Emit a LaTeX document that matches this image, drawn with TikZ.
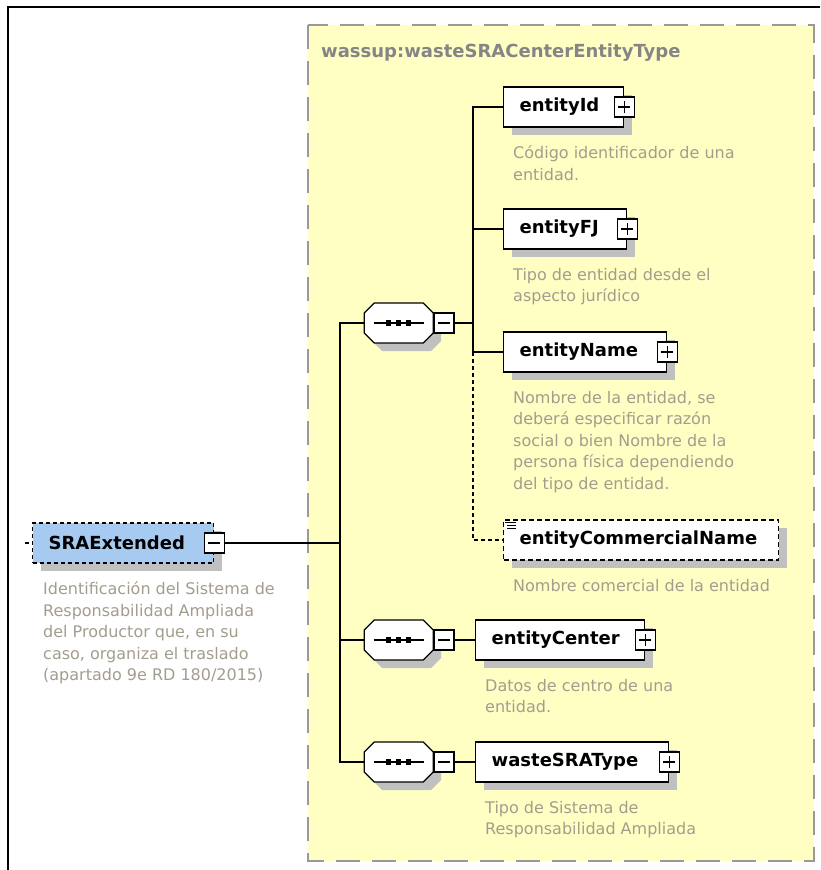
\documentclass[tikz,border=0pt]{standalone}
\usepackage{fontspec}
\setmainfont{DejaVu Sans}
\usetikzlibrary{shadows}
\definecolor{PaleYellow}{HTML}{FFFFC4}
\definecolor{ElemBlue}{HTML}{A6CAF0}
\definecolor{Shade}{HTML}{C0C0C0}
\definecolor{FrameGray}{HTML}{999999}
\definecolor{TitleGray}{HTML}{858585}
\definecolor{DocGray}{HTML}{A39D8D}

\tikzset{
  boxshadow/.style={drop shadow={shadow xshift=8pt, shadow yshift=-8pt, fill=Shade, opacity=1}},
  elem/.style={draw, fill=white, line width=1.3pt, minimum height=40pt, anchor=west,
    inner xsep=16pt, inner ysep=0pt, text width=#1, align=left,
    font=\fontsize{18}{22}\selectfont\bfseries, boxshadow},
  togglebox/.style={draw, fill=white, line width=1.1pt, minimum size=20pt, inner sep=0pt},
  plusbox/.style={togglebox, path picture={
      \draw[line width=1.1pt] ([xshift=-6pt]path picture bounding box.center) -- ([xshift=6pt]path picture bounding box.center);
      \draw[line width=1.1pt] ([yshift=-6pt]path picture bounding box.center) -- ([yshift=6pt]path picture bounding box.center);}},
  minusbox/.style={togglebox, path picture={
      \draw[line width=1.1pt] ([xshift=-6pt]path picture bounding box.center) -- ([xshift=6pt]path picture bounding box.center);}},
  seqbox/.style={rectangle, minimum width=69pt, minimum height=40pt, inner sep=0pt, anchor=west},
  desc/.style={anchor=north west, align=left, inner sep=0pt, text=DocGray,
    font=\fontsize{16}{21.5}\selectfont, execute at begin node={\rule{0pt}{13pt}}},
  link/.style={line width=1.3pt},
  optlink/.style={link, dash pattern=on 4pt off 3pt}
}

\begin{document}
\begin{tikzpicture}[x=1pt, y=-1pt]
  \useasboundingbox (0,0) rectangle (820,870);
  \draw[line width=1.5pt] (8,870) |- (820,7);

  % complex type
  \draw[fill=PaleYellow, draw=FrameGray, line width=2pt, dash pattern=on 24pt off 12pt] (308,25) rectangle (814,861);
  \node[anchor=base west, inner sep=0pt, text=TitleGray, font=\fontsize{18}{22}\selectfont\bfseries] (typeName) at (321,57) {wassup:wasteSRACenterEntityType};

  % root element
  \node[elem=149pt, fill=ElemBlue, dash pattern=on 4pt off 3pt] (sraExt) at (32,543) {SRAExtended};
  \node[minusbox] (mSra) at (sraExt.east) {};
  \node[desc] (sraDoc) at ([xshift=11pt,yshift=-18pt]sraExt.south west) {Identificación del Sistema de\\Responsabilidad Ampliada\\del Productor que, en su\\caso, organiza el traslado\\(apartado 9e RD 180/2015)};

  % sequences
  \node[seqbox] (seqA) at (364,323) {};
  \node[seqbox] (seqB) at (364,640) {};
  \node[seqbox] (seqC) at (364,762) {};
  \foreach \s in {seqA,seqB,seqC} {
    \begin{scope}[shift={(\s.center)}]
      \fill[Shade, shift={(8,8)}] (-24.5,-20) -- (24.5,-20) -- (34.5,-10) -- (34.5,10) -- (24.5,20) -- (-24.5,20) -- (-34.5,10) -- (-34.5,-10) -- cycle;
      \draw[link, fill=white] (-24.5,-20) -- (24.5,-20) -- (34.5,-10) -- (34.5,10) -- (24.5,20) -- (-24.5,20) -- (-34.5,10) -- (-34.5,-10) -- cycle;
      \draw[link] (-25,0) -- (25,0);
      \foreach \d in {-10,0,10}
        \fill[black] (\d-2.6,-2.6) rectangle (\d+2.6,2.6);
    \end{scope}
  }
  \foreach \s/\m in {seqA/mA,seqB/mB,seqC/mC}
    \node[minusbox, anchor=west] (\m) at (\s.east) {};

  % child elements
  \node[elem=88pt] (entId) at (503,107) {entityId};
  \node[elem=91pt] (entFJ) at (503,229) {entityFJ};
  \node[elem=131pt] (entName) at (503,352) {entityName};
  \node[elem=243pt, dash pattern=on 5pt off 3pt] (entComName) at (503,540) {entityCommercialName};
  \node[elem=137pt] (entCenter) at (475,640) {entityCenter};
  \node[elem=161pt] (wasteType) at (475,762) {wasteSRAType};
  \foreach \e in {entId,entFJ,entName,entCenter,wasteType}
    \node[plusbox] (p\e) at (\e.east) {};
  \foreach \dy/\xa in {3/2,6/4,9/4}
    \draw[line width=1pt] ([xshift=\xa pt,yshift=-\dy pt]entComName.north west) -- ([xshift=13pt,yshift=-\dy pt]entComName.north west);

  \node[desc] (entIdDoc) at ([xshift=10pt,yshift=-18pt]entId.south west) {Código identificador de una\\entidad.};
  \node[desc] (entFJDoc) at ([xshift=10pt,yshift=-18pt]entFJ.south west) {Tipo de entidad desde el\\aspecto jurídico};
  \node[desc] (entNameDoc) at ([xshift=10pt,yshift=-18pt]entName.south west) {Nombre de la entidad, se\\deberá especificar razón\\social o bien Nombre de la\\persona física dependiendo\\del tipo de entidad.};
  \node[desc] (entComNameDoc) at ([xshift=10pt,yshift=-18pt]entComName.south west) {Nombre comercial de la entidad};
  \node[desc] (entCenterDoc) at ([xshift=10pt,yshift=-18pt]entCenter.south west) {Datos de centro de una\\entidad.};
  \node[desc] (wasteTypeDoc) at ([xshift=10pt,yshift=-18pt]wasteType.south west) {Tipo de Sistema de\\Responsabilidad Ampliada};

  % connectors
  \coordinate (stub) at (25,543);
  \coordinate (fork) at (340,543);
  \coordinate (branch) at (473,323);
  \draw[optlink] (stub) -- (sraExt.west);
  \draw[link] (mSra.east) -- (fork);
  \draw[link] (seqA.west) -| (fork) |- (seqC.west);
  \draw[link] (fork) |- (seqB.west);
  \draw[link] (mA.east) -- (branch);
  \draw[link] (entId.west) -| (branch);
  \draw[link] (branch) |- (entName.west);
  \draw[link] (entFJ.west) -- (entFJ.west -| branch);
  \draw[optlink] (entName.west -| branch) |- (entComName.west);
  \draw[link] (mB.east) -- (entCenter.west);
  \draw[link] (mC.east) -- (wasteType.west);
\end{tikzpicture}
\end{document}
